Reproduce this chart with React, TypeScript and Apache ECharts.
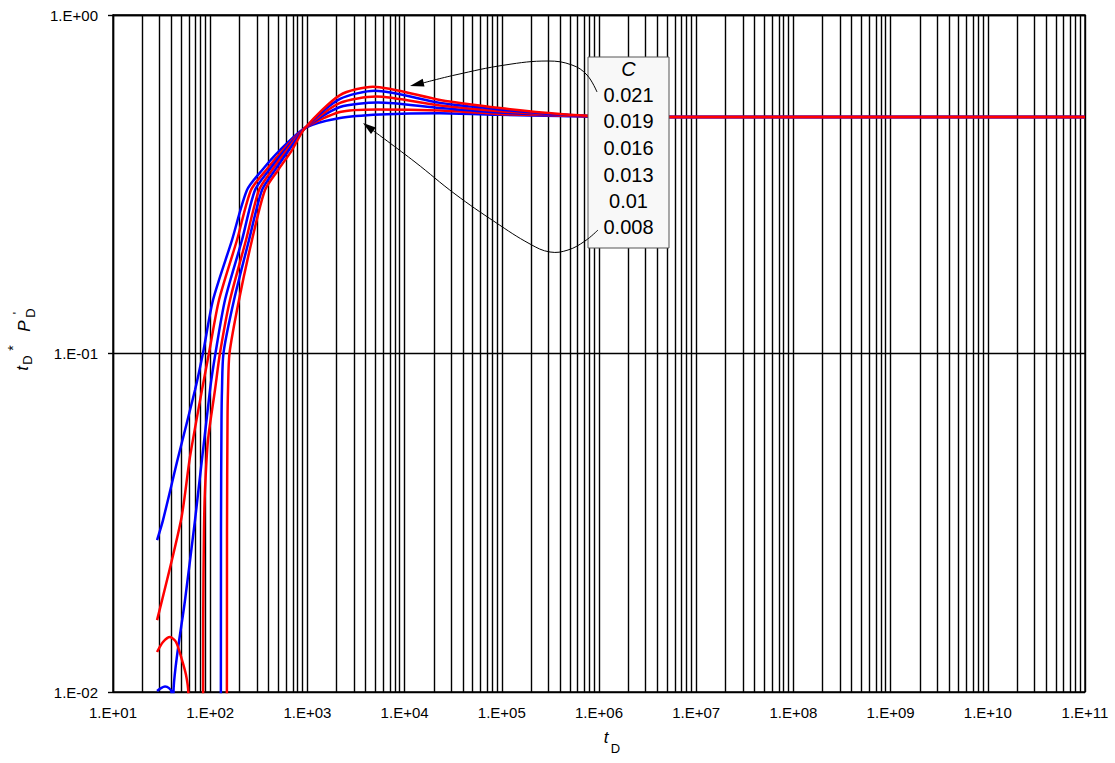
import React, { useEffect, useRef } from "react";
import * as echarts from "echarts";

// Curves: [tD, tD*PD'], one per wellbore-storage value C
const C_LABELS = ["0.021", "0.019", "0.016", "0.013", "0.01", "0.008"];

const curveC008: (number | null)[][] = [
  [28.4, 0.0281], [32.7, 0.0322], [46.6, 0.0491], [69.8, 0.078], [84.3, 0.1003],
  [106.9, 0.1439], [167.6, 0.2164], [239.2, 0.304], [341.3, 0.348], [522.6, 0.399],
  [944.7, 0.4636], [2165, 0.496], [5584, 0.508], [23130, 0.513],
  [95830, 0.507], [397000, 0.503], [1.64e6, 0.5], [1e11, 0.5],
];
const curveC010: (number | null)[][] = [
  [28.4, 0.0163], [50.1, 0.0322], [61.9, 0.0494], [82.3, 0.078], [97.2, 0.1003],
  [123.2, 0.1439], [188.7, 0.2164], [262.9, 0.304], [375, 0.348], [561, 0.399],
  [944.7, 0.4636], [2165, 0.517], [5200, 0.526], [23130, 0.522],
  [95830, 0.51], [397000, 0.505], [1.64e6, 0.5], [1e11, 0.5],
];
const curveC013: (number | null)[][] = [
  [28.4, 0.01007], [31.2, 0.01027], [34.3, 0.01038], [37.7, 0.01027], [40.0, 0.01],
  [41.0, 0.002], [41.9, 0.01], [55.1, 0.0187], [69.8, 0.0322], [99.5, 0.078],
  [113.4, 0.1003], [142, 0.1439], [212.4, 0.2164], [289.1, 0.304], [402.7, 0.348],
  [588.3, 0.399], [944.7, 0.4636], [2165, 0.535], [5325, 0.551],
  [23130, 0.531], [95830, 0.515], [397000, 0.507], [1.64e6, 0.5], [1e11, 0.5],
];
const curveC016: (number | null)[][] = [
  [28.4, 0.01313], [32.7, 0.01405], [38.6, 0.01454], [44.5, 0.01405], [51.3, 0.01243],
  [56.4, 0.01122], [59.5, 0.01], [61, 0.003], [70, null], [83.9, 0.001],
  [84.7, 0.0163], [86.3, 0.0301], [88.4, 0.0395], [94.9, 0.0555], [112, 0.078],
  [126.1, 0.1003], [159.8, 0.1439], [233.6, 0.2164], [317.8, 0.304], [432.4, 0.348],
  [616.8, 0.399], [944.7, 0.4636], [2165, 0.55], [5078, 0.574],
  [23130, 0.54], [95830, 0.52], [397000, 0.507], [1.64e6, 0.5], [1e11, 0.5],
];
const curveC019: (number | null)[][] = [
  [128.2, 0.001], [129.1, 0.0301], [130.7, 0.0636], [132.2, 0.078], [137.0, 0.1003],
  [175.8, 0.1439], [250.8, 0.2164], [341.3, 0.304], [464.2, 0.348], [646.9, 0.399],
  [944.7, 0.4636], [2165, 0.565], [4961, 0.597], [23130, 0.55],
  [95830, 0.526], [397000, 0.508], [1.64e6, 0.5], [1e11, 0.5],
];
const curveC021: (number | null)[][] = [
  [147.9, 0.001], [148.9, 0.0301], [150.7, 0.0636], [152.5, 0.078], [158.0, 0.1003],
  [197.8, 0.1439], [269.2, 0.2164], [366.2, 0.304], [498.4, 0.348], [694.5, 0.399],
  [944.7, 0.4636], [2165, 0.58], [4730, 0.614], [23130, 0.561],
  [95830, 0.531], [397000, 0.51], [1.64e6, 0.5], [1e11, 0.5],
];

// axis range in decades (log10 units)
const X_DECADE_MIN = 1; // 1.E+01
const X_DECADE_MAX = 11; // 1.E+11
const Y_DECADE_MIN = -2; // 1.E-02
const Y_DECADE_MAX = 0; // 1.E+00
const MINOR_MULTIPLES = [2, 3, 4, 5, 6, 7, 8, 9];

const FONT = "'Liberation Sans', Arial, sans-serif";
const RED = "#ff0000";
const BLUE = "#0000ff";
const GRID_W = 1.4;

function sciExp(e: number) {
  const n = Math.round(e);
  return "1.E" + (n < 0 ? "-" : "+") + String(Math.abs(n)).padStart(2, "0");
}

function toLog(data: (number | null)[][]) {
  return data.map(([t, v]) => [
    Math.log10(t as number),
    v == null ? null : Math.log10(v),
  ]);
}

export default function App() {
  const ref = useRef<HTMLDivElement>(null);
  useEffect(() => {
    if (!ref.current) return;
    const chart = echarts.init(ref.current, null, { renderer: "svg" });

    const minors: number[] = [];
    for (let e = X_DECADE_MIN; e < X_DECADE_MAX; e++) {
      for (const m of MINOR_MULTIPLES) minors.push(e + Math.log10(m));
    }

    const curves = [
      { name: "C=0.008", data: curveC008, color: BLUE },
      { name: "C=0.01", data: curveC010, color: RED },
      { name: "C=0.013", data: curveC013, color: BLUE },
      { name: "C=0.016", data: curveC016, color: RED },
      { name: "C=0.019", data: curveC019, color: BLUE },
      { name: "C=0.021", data: curveC021, color: RED },
    ];

    const boxX = 588, boxY = 57, boxW = 81, boxH = 191;
    const textCx = boxX + boxW / 2;
    const lineYs = [95, 120.5, 148, 174.5, 200.5, 227];

    const txt = (x: number, y: number, text: string, size: number, italic = false, rot = 0) => ({
      type: "text", z: 101, x, y, rotation: rot,
      style: {
        text, fontSize: size, fontStyle: italic ? "italic" : "normal", fontFamily: FONT,
        fill: "#000", align: "center", verticalAlign: "middle",
      },
    });

    const graphic: any[] = [
      {
        type: "rect", z: 100,
        shape: { x: boxX, y: boxY, width: boxW, height: boxH },
        style: { fill: "#f8f8f8", stroke: "#555", lineWidth: 1 },
      },
      txt(textCx, 69, "C", 20, true),
      ...C_LABELS.map((t, i) => txt(textCx, lineYs[i], t, 20)),
      // upper arrow
      {
        type: "polyline", z: 101,
        shape: { points: [[597, 92], [587, 75], [572, 65], [548, 61], [505, 65], [455, 75], [423, 83]], smooth: 0.4 },
        style: { stroke: "#000", lineWidth: 1, fill: null },
      },
      {
        type: "polygon", z: 101,
        shape: { points: [[410, 86], [424.5, 86.6], [422.7, 78.8]] },
        style: { fill: "#000" },
      },
      // lower arrow
      {
        type: "polyline", z: 101,
        shape: { points: [[598, 230], [585, 241], [568, 250], [550, 252], [530, 244], [495, 222], [455, 194], [415, 162], [373, 130.5]], smooth: 0.4 },
        style: { stroke: "#000", lineWidth: 1, fill: null },
      },
      {
        type: "polygon", z: 101,
        shape: { points: [[363, 123], [375.8, 127.6], [371, 134]] },
        style: { fill: "#000" },
      },
      // x axis title
      txt(606, 737, "t", 17, true),
      txt(615.5, 748, "D", 13),
      // y axis title (rotated)
      txt(22.5, 368.5, "t", 17, true, Math.PI / 2),
      txt(27, 360, "D", 13, false, Math.PI / 2),
      txt(13, 348, "*", 14, false, Math.PI / 2),
      txt(24, 326, "P", 17, true, Math.PI / 2),
      txt(30, 313, "D", 13, false, Math.PI / 2),
      txt(18, 313, "'", 12, false, Math.PI / 2),
    ];

    chart.setOption({
      animation: false,
      backgroundColor: "#fff",
      grid: {
        left: 113, right: 30, top: 15, bottom: 71,
        show: true, borderColor: "#000", borderWidth: GRID_W,
      },
      xAxis: {
        type: "value", min: X_DECADE_MIN, max: X_DECADE_MAX, interval: 1,
        axisLine: { show: true, lineStyle: { color: "#000", width: GRID_W } },
        axisTick: { show: false },
        splitLine: { show: true, lineStyle: { color: "#000", width: GRID_W } },
        axisLabel: {
          formatter: (v: number) => sciExp(v), color: "#000", fontSize: 15, fontFamily: FONT,
          margin: 13, showMinLabel: true, showMaxLabel: true,
        },
      },
      yAxis: {
        type: "value", min: Y_DECADE_MIN, max: Y_DECADE_MAX, interval: 1,
        axisLine: { show: true, lineStyle: { color: "#000", width: GRID_W } },
        axisTick: { show: true, length: 5, lineStyle: { color: "#000", width: GRID_W } },
        splitLine: { show: true, lineStyle: { color: "#000", width: GRID_W } },
        axisLabel: {
          formatter: (v: number) => sciExp(v), color: "#000", fontSize: 15, fontFamily: FONT,
          margin: 15, showMinLabel: true, showMaxLabel: true,
        },
      },
      series: [
        {
          type: "line", name: "grid", data: [], silent: true, z: 1,
          markLine: {
            silent: true, symbol: ["none", "none"], label: { show: false },
            lineStyle: { color: "#000", width: GRID_W, type: "solid" },
            emphasis: { disabled: true },
            data: minors.map((v) => ({ xAxis: v })),
          },
        },
        ...curves.map((c) => ({
          type: "line", name: c.name, data: toLog(c.data), showSymbol: false, symbol: "none",
          lineStyle: { color: c.color, width: 2.5 }, itemStyle: { color: c.color },
          z: 10, smooth: 0.25, connectNulls: false, clip: true,
          silent: true,
        })),
      ],
      graphic,
    });
    return () => chart.dispose();
  }, []);
  return (
    <div
      ref={ref}
      style={{ position: "absolute", left: 0, top: 0, width: 1115, height: 763 }}
    />
  );
}
